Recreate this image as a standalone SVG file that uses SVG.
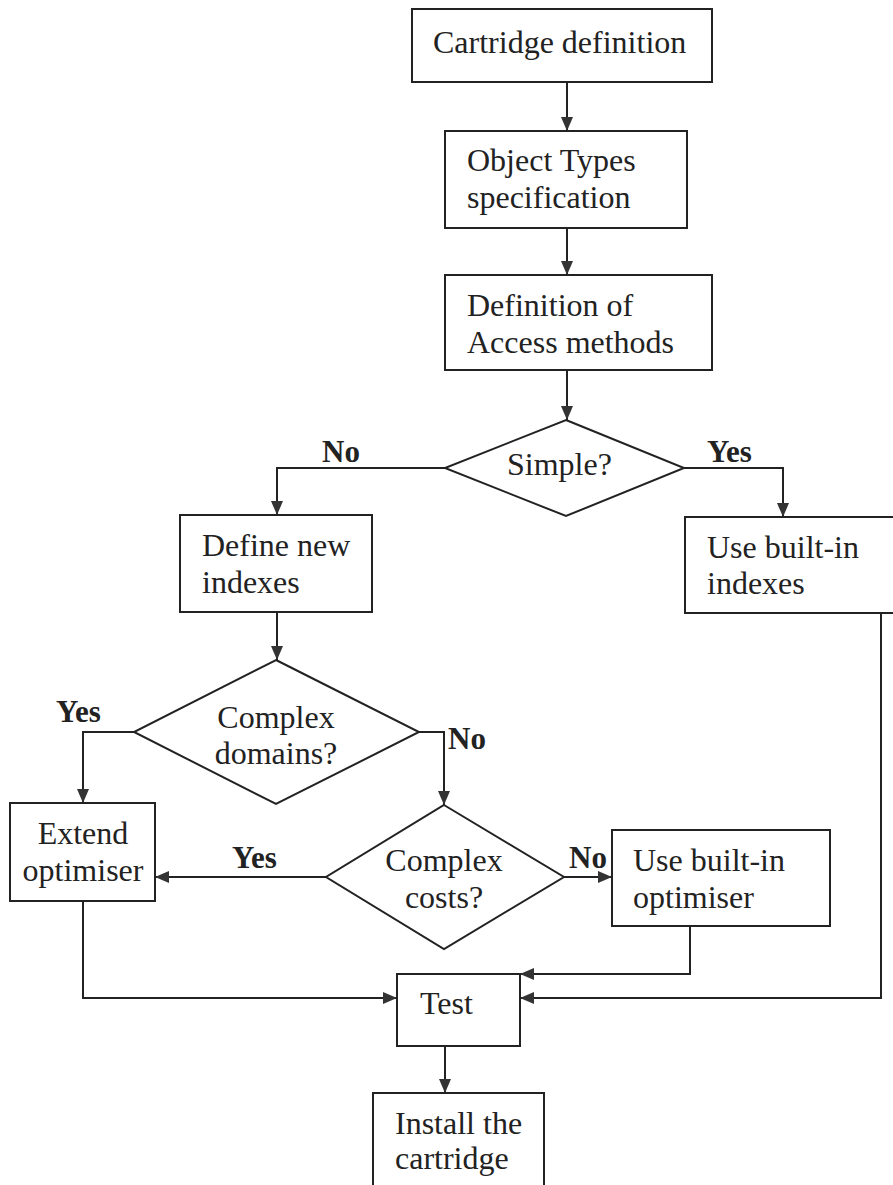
<svg xmlns="http://www.w3.org/2000/svg" width="893" height="1185" viewBox="0 0 893 1185">
<style>
.box{fill:#fff;stroke:#222;stroke-width:2}
.t{font-family:"Liberation Serif","Times New Roman",serif;font-size:32px;fill:#222}
.lb{font-family:"Liberation Serif","Times New Roman",serif;font-size:31px;font-weight:bold;fill:#222}
.c{fill:none;stroke:#222;stroke-width:2}
</style>
<defs>
<marker id="ah" viewBox="0 0 14 12" refX="14" refY="6" markerWidth="14" markerHeight="12" markerUnits="userSpaceOnUse" orient="auto">
<path d="M0,0 L14,6 L0,12 z" fill="#333"/>
</marker>
</defs>
<rect width="893" height="1185" fill="#fff"/>
<g id="connectors">
<path class="c" d="M567,82 V131" marker-end="url(#ah)"/>
<path class="c" d="M567,228 V275" marker-end="url(#ah)"/>
<path class="c" d="M567,370 V420" marker-end="url(#ah)"/>
<path class="c" d="M445,468 H277 V515" marker-end="url(#ah)"/>
<path class="c" d="M684,468 H783 V517" marker-end="url(#ah)"/>
<path class="c" d="M277,612 V660" marker-end="url(#ah)"/>
<path class="c" d="M134,732 H83 V803" marker-end="url(#ah)"/>
<path class="c" d="M419,732 H444 V805" marker-end="url(#ah)"/>
<path class="c" d="M326,877 H155" marker-end="url(#ah)"/>
<path class="c" d="M564,877 H612" marker-end="url(#ah)"/>
<path class="c" d="M690,927 V974 H520" marker-end="url(#ah)"/>
<path class="c" d="M881,613 V998 H520" marker-end="url(#ah)"/>
<path class="c" d="M83,901 V998 H397" marker-end="url(#ah)"/>
<path class="c" d="M445,1046 V1093" marker-end="url(#ah)"/>
<text class="lb" x="322" y="462">No</text>
<text class="lb" x="707" y="462">Yes</text>
<text class="lb" x="56" y="722">Yes</text>
<text class="lb" x="448" y="749">No</text>
<text class="lb" x="232" y="868">Yes</text>
<text class="lb" x="569" y="868">No</text>
</g>
<g id="n1"><rect class="box" x="412" y="9" width="300" height="73"/><text class="t" x="433" y="53">Cartridge definition</text></g>
<g id="n2"><rect class="box" x="445" y="131" width="242" height="97"/><text class="t" x="467" y="171">Object Types</text><text class="t" x="467" y="208">specification</text></g>
<g id="n3"><rect class="box" x="445" y="275" width="267" height="95"/><text class="t" x="467" y="316">Definition of</text><text class="t" x="467" y="353">Access methods</text></g>
<g id="d1"><polygon class="box" points="566,420 684,468 566,516 445,468"/><text class="t" x="507" y="475">Simple?</text></g>
<g id="n4"><rect class="box" x="180" y="515" width="192" height="97"/><text class="t" x="202" y="556">Define new</text><text class="t" x="202" y="593">indexes</text></g>
<g id="n5"><rect class="box" x="685" y="517" width="210" height="96"/><text class="t" x="707" y="558">Use built-in</text><text class="t" x="707" y="594">indexes</text></g>
<g id="d2"><polygon class="box" points="276,660 419,732 276,804 134,732"/><text class="t" x="276" y="728" text-anchor="middle">Complex</text><text class="t" x="276" y="764" text-anchor="middle">domains?</text></g>
<g id="n6"><rect class="box" x="10" y="803" width="145" height="98"/><text class="t" x="83" y="844" text-anchor="middle">Extend</text><text class="t" x="83" y="881" text-anchor="middle">optimiser</text></g>
<g id="d3"><polygon class="box" points="444,805 564,877 444,949 326,877"/><text class="t" x="444" y="871" text-anchor="middle">Complex</text><text class="t" x="444" y="908" text-anchor="middle">costs?</text></g>
<g id="n7"><rect class="box" x="612" y="830" width="218" height="96"/><text class="t" x="633" y="871">Use built-in</text><text class="t" x="633" y="908">optimiser</text></g>
<g id="n8"><rect class="box" x="397" y="974" width="123" height="72"/><text class="t" x="420" y="1014">Test</text></g>
<g id="n9"><rect class="box" x="373" y="1093" width="171" height="100"/><text class="t" x="395" y="1134">Install the</text><text class="t" x="395" y="1169">cartridge</text></g>
</svg>
